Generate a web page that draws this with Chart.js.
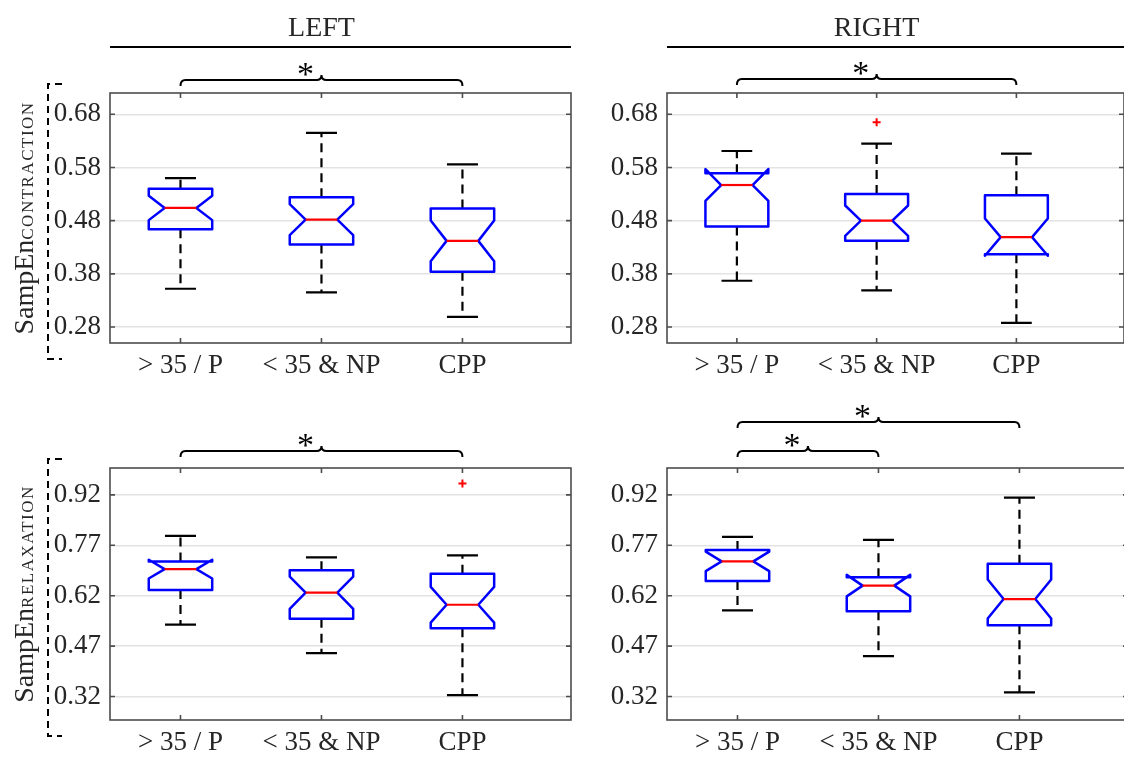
<!DOCTYPE html>
<html>
<head>
<meta charset="utf-8">
<script src="https://cdn.jsdelivr.net/npm/chart.js@4/dist/chart.umd.min.js"></script>
<style>
  html, body { margin: 0; padding: 0; background: #fff; overflow: hidden; }
  #wrap { position: relative; width: 1124px; height: 760px; }
  canvas { position: absolute; left: 0; top: 0; }
</style>
</head>
<body>
<div id="wrap">
  <canvas id="tl" width="1130" height="760"></canvas>
  <canvas id="tr" width="1130" height="760"></canvas>
  <canvas id="bl" width="1130" height="760"></canvas>
  <canvas id="br" width="1130" height="760"></canvas>
</div>
<script>
// groups on the x axis
const groups = ["> 35 / P", "< 35 & NP", "CPP"];

// y tick labels
const ticksContraction = [0.28, 0.38, 0.48, 0.58, 0.68];
const ticksRelaxation = [0.32, 0.47, 0.62, 0.77, 0.92];

// per group: [lower whisker, Q1, median, Q3, upper whisker]
const leftContraction = [
  [0.352, 0.464, 0.504, 0.540, 0.560],
  [0.345, 0.435, 0.482, 0.524, 0.645],
  [0.299, 0.384, 0.442, 0.503, 0.586]
];
const rightContraction = [
  [0.367, 0.469, 0.547, 0.569, 0.611],
  [0.349, 0.442, 0.480, 0.530, 0.625],
  [0.288, 0.417, 0.449, 0.528, 0.606]
];
const leftRelaxation = [
  [0.534, 0.637, 0.699, 0.722, 0.798],
  [0.449, 0.551, 0.629, 0.696, 0.734],
  [0.324, 0.523, 0.593, 0.685, 0.740]
];
const rightRelaxation = [
  [0.576, 0.664, 0.722, 0.756, 0.795],
  [0.440, 0.574, 0.650, 0.675, 0.786],
  [0.332, 0.532, 0.610, 0.715, 0.912]
];

// notch half heights (median +/-)
const leftContractionNotch = [0.023, 0.029, 0.0385];
const rightContractionNotch = [0.030, 0.0285, 0.035];
const leftRelaxationNotch = [0.028, 0.048, 0.053];
const rightRelaxationNotch = [0.029, 0.032, 0.058];

// outliers per group
const leftContractionOut = [[], [], []];
const rightContractionOut = [[], [0.665], []];
const leftRelaxationOut = [[], [], [0.954]];
const rightRelaxationOut = [[], [], []];

// significant pairs (group numbers)
const leftContractionSig = [[1, 3]];
const rightContractionSig = [[1, 3]];
const leftRelaxationSig = [[1, 3]];
const rightRelaxationSig = [[1, 2], [1, 3]];

const serif = "'Liberation Serif', 'Times New Roman', serif";
const textColor = "#262626";
const frameColor = "#4d4d4d";

function drawBox(ctx, xs, ys, pos, s, notch) {
  const [lo, q1, med, q3, hi] = s;
  const hw = 0.225, nw = 0.1125, cw = 0.11;
  const px = v => xs.getPixelForValue(v);
  const py = v => ys.getPixelForValue(v);
  const nlo = med - notch, nhi = med + notch;

  // whiskers
  ctx.strokeStyle = "#000";
  ctx.lineWidth = 2.2;
  ctx.setLineDash([9, 6]);
  ctx.beginPath();
  ctx.moveTo(px(pos), py(q3));
  ctx.lineTo(px(pos), py(hi));
  ctx.moveTo(px(pos), py(q1));
  ctx.lineTo(px(pos), py(lo));
  ctx.stroke();
  ctx.setLineDash([]);
  ctx.beginPath();
  ctx.moveTo(px(pos - cw), py(hi));
  ctx.lineTo(px(pos + cw), py(hi));
  ctx.moveTo(px(pos - cw), py(lo));
  ctx.lineTo(px(pos + cw), py(lo));
  ctx.stroke();

  // notched box
  ctx.strokeStyle = "#0000ff";
  ctx.lineWidth = 2.5;
  ctx.lineJoin = "round";
  ctx.beginPath();
  ctx.moveTo(px(pos - hw), py(q1));
  ctx.lineTo(px(pos - hw), py(nlo));
  ctx.lineTo(px(pos - nw), py(med));
  ctx.lineTo(px(pos - hw), py(nhi));
  ctx.lineTo(px(pos - hw), py(q3));
  ctx.lineTo(px(pos + hw), py(q3));
  ctx.lineTo(px(pos + hw), py(nhi));
  ctx.lineTo(px(pos + nw), py(med));
  ctx.lineTo(px(pos + hw), py(nlo));
  ctx.lineTo(px(pos + hw), py(q1));
  ctx.closePath();
  ctx.stroke();

  // median
  ctx.strokeStyle = "#ff0000";
  ctx.lineWidth = 2.2;
  ctx.beginPath();
  ctx.moveTo(px(pos - nw), py(med));
  ctx.lineTo(px(pos + nw), py(med));
  ctx.stroke();
}

function drawBrace(ctx, x1, x2, y) {
  const xm = (x1 + x2) / 2, r = 5;
  ctx.beginPath();
  ctx.moveTo(x1, y + 6);
  ctx.quadraticCurveTo(x1, y, x1 + r, y);
  ctx.lineTo(xm - r, y);
  ctx.quadraticCurveTo(xm, y, xm, y - 5);
  ctx.quadraticCurveTo(xm, y, xm + r, y);
  ctx.lineTo(x2 - r, y);
  ctx.quadraticCurveTo(x2, y, x2, y + 6);
  ctx.stroke();
}

function makePanel(id, o) {
  const points = [];
  o.out.forEach((list, i) => list.forEach(v => points.push({ x: i + 1, y: v })));

  new Chart(document.getElementById(id), {
    type: "scatter",
    data: {
      datasets: [{
        data: points,
        pointStyle: "cross",
        pointRadius: 4,
        pointBorderWidth: 2,
        pointBorderColor: "#ff0000",
        pointBackgroundColor: "#ff0000"
      }]
    },
    options: {
      responsive: false,
      animation: false,
      devicePixelRatio: 1,
      events: [],
      layout: { padding: o.pad },
      plugins: { legend: { display: false }, tooltip: { enabled: false } },
      scales: {
        x: {
          type: "linear",
          min: 0.5,
          max: 3.77,
          afterBuildTicks: s => { s.ticks = groups.map((g, i) => ({ value: i + 1 })); },
          afterFit: s => { s.height = 40; },
          ticks: {
            callback: v => groups[Math.round(v) - 1],
            font: { family: serif, size: 27 },
            color: textColor,
            padding: 7,
            maxRotation: 0,
            autoSkip: false
          },
          grid: { display: false, drawTicks: false },
          border: { display: false }
        },
        y: {
          type: "linear",
          min: o.ymin,
          max: o.ymax,
          afterBuildTicks: s => { s.ticks = o.yticks.map(v => ({ value: v })); },
          afterFit: s => { s.width = o.yw; },
          ticks: {
            callback: v => v.toFixed(2),
            font: { family: serif, size: 27 },
            color: textColor,
            padding: 9
          },
          grid: { color: "#e3e3e3", lineWidth: 1.5, drawTicks: false },
          border: { display: false }
        }
      }
    },
    plugins: [{
      id: "panel",
      beforeDatasetsDraw(chart) {
        const ctx = chart.ctx, xs = chart.scales.x, ys = chart.scales.y;
        ctx.save();
        o.stats.forEach((s, i) => drawBox(ctx, xs, ys, i + 1, s, o.notch[i]));
        ctx.restore();
      },
      afterDraw(chart) {
        const ctx = chart.ctx, xs = chart.scales.x, ys = chart.scales.y;
        const a = chart.chartArea;
        ctx.save();

        // frame and inward ticks
        ctx.strokeStyle = frameColor;
        ctx.lineWidth = 1.6;
        ctx.strokeRect(a.left, a.top, a.right - a.left, a.bottom - a.top);
        ctx.beginPath();
        groups.forEach((g, i) => {
          const x = xs.getPixelForValue(i + 1);
          ctx.moveTo(x, a.bottom); ctx.lineTo(x, a.bottom - 5);
          ctx.moveTo(x, a.top); ctx.lineTo(x, a.top + 5);
        });
        o.yticks.forEach(v => {
          const y = ys.getPixelForValue(v);
          ctx.moveTo(a.left, y); ctx.lineTo(a.left + 5, y);
          ctx.moveTo(a.right, y); ctx.lineTo(a.right - 5, y);
        });
        ctx.stroke();

        // significance braces
        ctx.strokeStyle = "#000";
        ctx.fillStyle = "#000";
        ctx.lineWidth = 2;
        ctx.font = "34px " + serif;
        ctx.textAlign = "center";
        ctx.textBaseline = "alphabetic";
        o.sig.forEach((p, lvl) => {
          const x1 = xs.getPixelForValue(p[0]);
          const x2 = xs.getPixelForValue(p[1]);
          const y = a.top - o.gap - lvl * 29;
          drawBrace(ctx, x1, x2, y);
          ctx.fillText("*", (x1 + x2) / 2 - 16, y + 5);
        });

        // column title
        if (o.title) {
          ctx.fillStyle = textColor;
          ctx.font = "28px " + serif;
          ctx.fillText(o.title, xs.getPixelForValue(2), 36);
          ctx.strokeStyle = "#000";
          ctx.lineWidth = 2;
          ctx.beginPath();
          ctx.moveTo(a.left, 47);
          ctx.lineTo(a.right, 47);
          ctx.stroke();
        }

        // row label with dashed bracket
        if (o.label) {
          ctx.strokeStyle = "#000";
          ctx.lineWidth = 2;
          ctx.setLineDash([7, 5]);
          ctx.beginPath();
          ctx.moveTo(62, a.top - 9);
          ctx.lineTo(48, a.top - 9);
          ctx.lineTo(48, a.bottom + 16);
          ctx.lineTo(62, a.bottom + 16);
          ctx.stroke();
          ctx.setLineDash([]);

          const cy = (a.top + a.bottom) / 2;
          ctx.translate(33, cy);
          ctx.rotate(-Math.PI / 2);
          ctx.fillStyle = textColor;
          ctx.textAlign = "left";
          ctx.font = "28px " + serif;
          const w1 = ctx.measureText("SampEn").width;
          ctx.font = "17px " + serif;
          ctx.letterSpacing = "1.5px";
          const w2 = ctx.measureText(o.label).width;
          const x0 = -(w1 + w2) / 2;
          ctx.fillText(o.label, x0 + w1, 0);
          ctx.letterSpacing = "0px";
          ctx.font = "28px " + serif;
          ctx.fillText("SampEn", x0, 0);
        }
        ctx.restore();
      }
    }]
  });
}

makePanel("tl", {
  stats: leftContraction, notch: leftContractionNotch, out: leftContractionOut, sig: leftContractionSig,
  yticks: ticksContraction, ymin: 0.25, ymax: 0.72, yw: 110, gap: 13,
  pad: { left: 0, top: 93, right: 559, bottom: 377 },
  title: "LEFT", label: "CONTRACTION"
});
makePanel("tr", {
  stats: rightContraction, notch: rightContractionNotch, out: rightContractionOut, sig: rightContractionSig,
  yticks: ticksContraction, ymin: 0.25, ymax: 0.72, yw: 77, gap: 14,
  pad: { left: 590, top: 93, right: 2, bottom: 377 },
  title: "RIGHT"
});
makePanel("bl", {
  stats: leftRelaxation, notch: leftRelaxationNotch, out: leftRelaxationOut, sig: leftRelaxationSig,
  yticks: ticksRelaxation, ymin: 0.25, ymax: 1.0, yw: 110, gap: 17,
  pad: { left: 0, top: 468, right: 559, bottom: 0 },
  label: "RELAXATION"
});
makePanel("br", {
  stats: rightRelaxation, notch: rightRelaxationNotch, out: rightRelaxationOut, sig: rightRelaxationSig,
  yticks: ticksRelaxation, ymin: 0.25, ymax: 1.0, yw: 77, gap: 17,
  pad: { left: 590, top: 468, right: 2, bottom: 0 }
});
</script>
</body>
</html>
